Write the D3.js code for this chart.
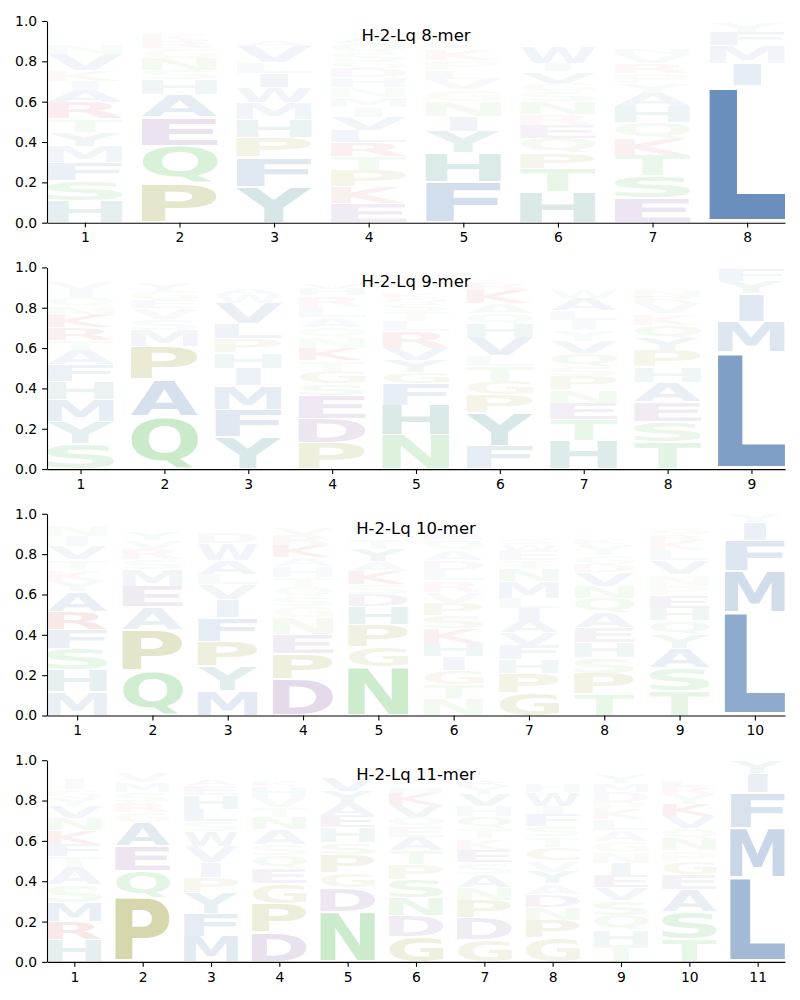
<!DOCTYPE html>
<html><head><meta charset="utf-8">
<script src="https://cdn.jsdelivr.net/npm/d3@7"></script>
<style>body{margin:0;background:#fff}svg text{font-family:"DejaVu Sans",sans-serif}</style>
</head><body>
<svg id="chart" width="800" height="1000"></svg>
<script>
// ---- data (letters listed bottom -> top for each position) ----
const merLengths = [8, 9, 10, 11];
const titles = ["H-2-Lq 8-mer", "H-2-Lq 9-mer", "H-2-Lq 10-mer", "H-2-Lq 11-mer"];
const yTickValues = [0, 0.2, 0.4, 0.6, 0.8, 1.0];

const letters8 = ["HSFMYTRAIKVNELGQDW","PQEAHSNGRKVTDLM","YFPHMWILVASKERD","EKPTRLVIMNHDGSQAWFYC","FHYINGVLPKASTEDQMRW","HTPQERNSGVIWADFMLKY","ESTKQHAYPRVNDGLMFWI","LIMFY"];
const probs8 = [
 [.11,.10,.09,.08,.07,.065,.08,.06,.045,.055,.08,.05,.02,.02,.02,.015,.015,.015],
 [.197,.185,.14,.112,.075,.047,.058,.05,.034,.033,.015,.015,.012,.01,.008],
 [.178,.147,.097,.092,.08,.076,.07,.052,.082,.03,.025,.02,.015,.015,.01],
 [.097,.082,.082,.066,.07,.06,.066,.05,.05,.046,.05,.046,.036,.04,.05,.03,.02,.02,.02,.01],
 [.2,.147,.107,.072,.077,.056,.054,.042,.05,.056,.02,.018,.016,.015,.014,.013,.012,.012,.01],
 [.152,.117,.077,.072,.065,.056,.064,.048,.041,.057,.041,.08,.025,.02,.02,.015,.015,.015,.01],
 [.124,.109,.102,.082,.08,.08,.066,.05,.046,.05,.046,.03,.025,.02,.02,.02,.015,.015,.01],
 [.68,.11,.088,.066,.05]
];
const letters9 = ["SYMHFATRKNQIVGELDW","QAPMSVEGYTKNRD","YFMIHPLVWASTEKRD","PDESGTKNQALRHVWMFYI","NHFGYVRLTSQKEADPMI","FYPGTLVHQAKRSEDNW","HTENPSQVYILAWGDKRMFC","TSEAHPYQKVRNGDLMFI","LMIYF"];
const probs9 = [
 [.127,.107,.11,.088,.085,.073,.048,.063,.059,.046,.046,.034,.041,.02,.015,.013,.01,.01],
 [.26,.183,.163,.082,.053,.056,.041,.046,.039,.02,.015,.012,.012,.01],
 [.16,.136,.117,.087,.077,.072,.073,.1,.046,.03,.025,.02,.015,.015,.01,.01],
 [.13,.12,.115,.058,.064,.051,.059,.054,.051,.048,.054,.056,.03,.03,.02,.02,.02,.015,.01],
 [.168,.148,.107,.059,.059,.059,.082,.051,.051,.035,.03,.03,.025,.025,.02,.02,.015,.01],
 [.117,.163,.087,.069,.073,.053,.092,.066,.053,.048,.067,.03,.025,.02,.02,.01,.01],
 [.14,.106,.082,.064,.066,.051,.067,.059,.051,.053,.047,.059,.04,.025,.02,.02,.015,.01,.01,.01],
 [.134,.102,.098,.098,.075,.082,.059,.067,.056,.051,.03,.03,.025,.025,.02,.02,.015,.01],
 [.58,.152,.137,.064,.064]
];
const letters10 = ["MHSFRAYKTVINGQED","QPAEMSRVYTKGND","MYPFIVLAWDHSTEKR","DPENGSQTHAKRVLYMF","NGPHDSKAYTQERVLMF","NTGIHKSPVRLDAQEYFMWC","GPHFVAILMNTEWSQDYKRC","TPSHEAQNVDGYKLIMRFW","TSAYQHEPNVLKRGDIFMW","LMFIY"];
const probs10 = [
 [.119,.107,.105,.094,.09,.099,.051,.056,.051,.067,.051,.051,.02,.015,.01,.01],
 [.222,.204,.114,.102,.082,.051,.051,.043,.043,.025,.02,.015,.01,.01],
 [.124,.12,.124,.119,.087,.074,.051,.071,.082,.051,.02,.02,.015,.015,.01,.01],
 [.18,.128,.094,.082,.056,.047,.051,.046,.056,.043,.059,.051,.03,.025,.02,.015,.01],
 [.243,.099,.11,.089,.059,.048,.067,.051,.059,.051,.025,.025,.02,.015,.015,.01,.01],
 [.082,.073,.069,.069,.066,.073,.066,.059,.056,.056,.051,.05,.051,.051,.03,.025,.02,.015,.015,.015],
 [.11,.097,.069,.073,.061,.061,.059,.051,.085,.059,.043,.051,.03,.03,.025,.025,.02,.02,.015,.01],
 [.107,.102,.077,.074,.074,.074,.074,.059,.067,.043,.043,.056,.03,.025,.025,.02,.02,.015,.01],
 [.122,.113,.099,.067,.07,.062,.06,.048,.056,.071,.051,.051,.03,.03,.02,.015,.01,.01,.01],
 [.512,.207,.15,.09,.038]
];
const letters11 = ["HRMSATFKNVYGIQELDW","PQEAGRSMVTKND","MFYPIVWSLHEATQGKRD","DPGEQSANTVHKLRYMF","NDGPSHEAYVTQKRLM","GDNSPTAEQVKHYLRMFIWC","GDPNASEKTQHVYRLMFIWC","GPNDAYVCTSFIWHLEQMKR","THQSVEINGALKPDMYFRWC","TSAEGPNQVKYRLHDMFI","LMFIY"];
const probs11 = [
 [.11,.09,.094,.087,.087,.056,.061,.067,.059,.059,.043,.043,.051,.025,.02,.02,.015,.01],
 [.318,.132,.122,.12,.05,.05,.05,.05,.05,.015,.015,.012,.01],
 [.127,.114,.102,.074,.074,.082,.076,.05,.059,.067,.05,.03,.02,.02,.015,.01,.01,.01],
 [.145,.145,.099,.074,.064,.056,.074,.059,.051,.051,.051,.03,.025,.025,.02,.015,.01],
 [.25,.119,.074,.09,.059,.077,.059,.059,.059,.067,.02,.02,.015,.01,.01,.01],
 [.127,.102,.09,.09,.074,.067,.067,.051,.051,.059,.059,.03,.025,.025,.02,.015,.015,.01,.01,.01],
 [.11,.107,.09,.064,.064,.056,.064,.056,.051,.059,.051,.059,.04,.03,.02,.02,.015,.015,.01,.015],
 [.118,.09,.064,.064,.051,.059,.056,.067,.051,.051,.059,.043,.067,.04,.025,.025,.02,.02,.015,.01],
 [.08,.078,.073,.073,.064,.059,.061,.056,.054,.056,.051,.051,.034,.051,.043,.04,.025,.02,.015,.01],
 [.112,.135,.11,.074,.064,.056,.059,.051,.059,.059,.051,.043,.03,.025,.025,.02,.015,.01],
 [.42,.246,.174,.094,.058]
];

// colour groups
const groupLetters = ["AVLIMFW", "HY", "STNQ", "PGC", "DE", "KR"];
const groupColors = ["rgb(36,90,158)", "rgb(20,110,110)", "rgb(50,175,50)", "rgb(128,128,0)", "rgb(110,50,140)", "rgb(200,20,20)"];

const allLetters = [letters8, letters9, letters10, letters11];
const allProbs = [probs8, probs9, probs10, probs11];

function colorOf(ch) {
  for (let i = 0; i < groupLetters.length; i++) if (groupLetters[i].includes(ch)) return groupColors[i];
  return "#888";
}

function draw() {
  const svg = d3.select("#chart");
  const VPAD = 0.03;
  const ctx = document.createElement("canvas").getContext("2d");
  ctx.font = 'bold 100px "DejaVu Sans"';
  const cache = {};
  const met = ch => {
    if (!cache[ch]) {
      const m = ctx.measureText(ch);
      cache[ch] = {l: m.actualBoundingBoxLeft, r: m.actualBoundingBoxRight, a: m.actualBoundingBoxAscent, d: m.actualBoundingBoxDescent};
    }
    return cache[ch];
  };
  const eM = met("E"), eW = eM.l + eM.r;

  merLengths.forEach((n, i) => {
    const top = 21 + i * 246.4, bottom = top + 201.7;
    const x = d3.scaleLinear().domain([0.6, n + 0.4]).range([47, 785]);
    const y = d3.scaleLinear().domain([0, 1]).range([bottom, top]);
    const g = svg.append("g");
    const letters = allLetters[i], probs = allProbs[i];

    letters.forEach((str, j) => {
      const pos = j + 1;
      let base = 0;
      str.split("").forEach((ch, k) => {
        const p = probs[j][k];
        const m = met(ch);
        const inkW = m.l + m.r, inkH = m.a + m.d;
        const wpx = x(pos + 0.4) - x(pos - 0.4);
        const yTop = y(base + p * (1 - VPAD)), yBot = y(base + p * VPAD);
        const hpx = yBot - yTop;
        const sx = Math.min(wpx / inkW, wpx / eW);
        const sy = hpx / inkH;
        const x0 = x(pos) - inkW * sx / 2;
        g.append("text").text(ch)
          .attr("font-size", 100).attr("font-weight", "bold")
          .attr("fill", colorOf(ch)).attr("fill-opacity", p)
          .attr("transform", `translate(${x0},${yTop}) scale(${sx},${sy}) translate(${m.l},${m.a})`);
        base += p;
      });
    });

    const ya = g.append("g").attr("transform", "translate(47,0)")
      .call(d3.axisLeft(y).tickValues(yTickValues).tickFormat(d3.format(".1f")).tickSize(4.9).tickPadding(4.9).tickSizeOuter(0));
    const xa = g.append("g").attr("transform", `translate(0,${bottom})`)
      .call(d3.axisBottom(x).tickValues(d3.range(1, n + 1)).tickFormat(d3.format("d")).tickSize(4.9).tickPadding(4.9).tickSizeOuter(0));
    [ya, xa].forEach(a => {
      a.selectAll("text").attr("font-size", 13.9).attr("font-family", "DejaVu Sans").attr("fill", "#000");
      a.selectAll("line,path").attr("stroke", "#000").attr("stroke-width", 1.1);
    });

    g.append("text").attr("x", (47 + 785) / 2).attr("y", top + 20)
      .attr("text-anchor", "middle").attr("font-size", 16.5).attr("fill", "#000")
      .text(titles[i]);
  });
}

if (document.fonts && document.fonts.load) {
  document.fonts.load('bold 100px "DejaVu Sans"').then(draw).catch(draw);
} else draw();
</script>
</body></html>
